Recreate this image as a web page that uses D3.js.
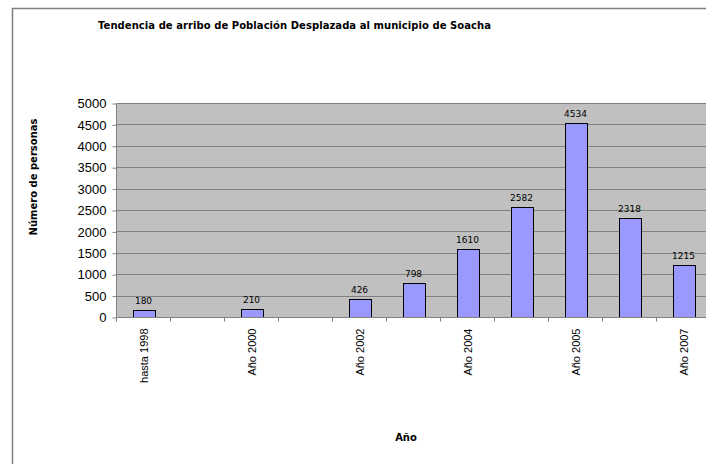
<!DOCTYPE html>
<html lang="es">
  <head>
    <meta charset="utf-8">
    <title>Tendencia de arribo de Población Desplazada</title>
    <script src="https://cdnjs.cloudflare.com/ajax/libs/d3/7.8.5/d3.min.js"></script>
    <style>
      body { margin: 0; background: #fff; }
      svg { display: block; }
    </style>
  </head>
  <body>
    <script type="text/javascript">

    // 11 slots on the x axis, Excel only prints every other label
    const categories = ['hasta 1998', 'Año 1999', 'Año 2000', 'Año 2001', 'Año 2002', 'Año 2003',
                        'Año 2004', 'Año 2004b', 'Año 2005', 'Año 2006', 'Año 2007'];
    const tickLabels = ['hasta 1998', '', 'Año 2000', '', 'Año 2002', '',
                        'Año 2004', '', 'Año 2005', '', 'Año 2007'];
    const values = [180, null, 210, null, 426, 798, 1610, 2582, 4534, 2318, 1215];
    const yTicks = [0, 500, 1000, 1500, 2000, 2500, 3000, 3500, 4000, 4500, 5000];

    const w = 706, h = 464;
    const pLeft = 116.5, pRight = 710.5, pTop = 103.5, pBottom = 317.5;

    const svg = d3.select('body').append('svg')
      .attr('width', w)
      .attr('height', h);

    // chart frame (right and bottom fall outside the picture)
    svg.append('rect')
      .attr('x', 12.5).attr('y', 8.5)
      .attr('width', 720).attr('height', 480)
      .attr('fill', '#fff')
      .attr('stroke', '#808080')
      .attr('stroke-width', 1.5);

    const x = d3.scaleBand()
      .domain(categories)
      .range([pLeft, pRight])
      .paddingInner(0.6)
      .paddingOuter(0.3);

    const slot = d3.scaleBand().domain(categories).range([pLeft, pRight]);

    const y = d3.scaleLinear()
      .domain([0, 5000])
      .range([pBottom, pTop]);

    svg.append('rect')
      .attr('x', pLeft).attr('y', pTop)
      .attr('width', pRight - pLeft).attr('height', pBottom - pTop)
      .attr('fill', '#c0c0c0');

    // gridlines
    svg.append('g')
      .selectAll('line')
      .data(yTicks.filter(d => d > 0))
      .join('line')
      .attr('x1', pLeft).attr('x2', pRight)
      .attr('y1', d => Math.floor(y(d)) + 0.5)
      .attr('y2', d => Math.floor(y(d)) + 0.5)
      .attr('stroke', '#808080')
      .attr('stroke-width', 1);

    // bars
    const data = categories.map((c, i) => ({ c: c, v: values[i] })).filter(d => d.v != null);

    svg.append('g')
      .selectAll('rect')
      .data(data)
      .join('rect')
      .attr('x', d => Math.round(x(d.c)) + 0.5)
      .attr('y', d => Math.round(y(d.v)) + 0.5)
      .attr('width', Math.round(x.bandwidth()))
      .attr('height', d => Math.floor(pBottom) - Math.round(y(d.v)))
      .attr('fill', '#9999ff')
      .attr('stroke', '#000')
      .attr('stroke-width', 1);

    svg.append('g')
      .selectAll('text')
      .data(data)
      .join('text')
      .attr('x', d => x(d.c) + x.bandwidth() / 2)
      .attr('y', d => y(d.v) - 6)
      .attr('text-anchor', 'middle')
      .style('font-family', '"DejaVu Sans", Verdana, sans-serif')
      .style('font-size', '9px')
      .attr('fill', '#000')
      .text(d => d.v);

    // y axis
    const yAxis = d3.axisLeft(y)
      .tickValues(yTicks)
      .tickSize(4)
      .tickPadding(6)
      .tickFormat(d3.format('d'));

    const gy = svg.append('g')
      .attr('transform', 'translate(' + pLeft + ',0)')
      .call(yAxis);
    gy.select('.domain').attr('stroke', '#808080').attr('d', 'M0,' + pTop + 'V' + (pBottom + 4));
    gy.selectAll('.tick line').attr('stroke', '#808080');
    gy.selectAll('.tick text')
      .style('font-family', '"Liberation Sans", Arial, sans-serif')
      .style('font-size', '13px')
      .attr('fill', '#000');

    // x axis: ticks sit on slot boundaries, labels centered in the slot
    const bounds = categories.map(c => slot(c)).concat([pRight]);
    svg.append('line')
      .attr('x1', pLeft).attr('x2', pRight)
      .attr('y1', pBottom).attr('y2', pBottom)
      .attr('stroke', '#808080');
    svg.append('g')
      .selectAll('line')
      .data(bounds)
      .join('line')
      .attr('x1', d => Math.floor(d) + 0.5).attr('x2', d => Math.floor(d) + 0.5)
      .attr('y1', pBottom).attr('y2', pBottom + 4)
      .attr('stroke', '#808080');

    svg.append('g')
      .selectAll('text')
      .data(categories)
      .join('text')
      .attr('transform', (d, i) => 'translate(' + (slot(d) + slot.bandwidth() / 2 + 4) + ',' + (pBottom + 11) + ') rotate(-90)')
      .attr('text-anchor', 'end')
      .style('font-family', '"Liberation Sans", Arial, sans-serif')
      .style('font-size', '11px')
      .attr('fill', '#000')
      .text((d, i) => tickLabels[i]);

    // titles
    svg.append('text')
      .attr('x', 98).attr('y', 29)
      .style('font-family', '"DejaVu Sans", Verdana, sans-serif')
      .style('font-size', '10px')
      .style('font-weight', 'bold')
      .attr('textLength', 393)
      .text('Tendencia de arribo de Población Desplazada al municipio de Soacha');

    svg.append('text')
      .attr('transform', 'translate(37,177) rotate(-90)')
      .attr('text-anchor', 'middle')
      .style('font-family', '"DejaVu Sans", Verdana, sans-serif')
      .style('font-size', '10px')
      .style('font-weight', 'bold')
      .text('Número de personas');

    svg.append('text')
      .attr('x', 406).attr('y', 441)
      .attr('text-anchor', 'middle')
      .style('font-family', '"DejaVu Sans", Verdana, sans-serif')
      .style('font-size', '10px')
      .style('font-weight', 'bold')
      .text('Año');

    </script>
  </body>
</html>
